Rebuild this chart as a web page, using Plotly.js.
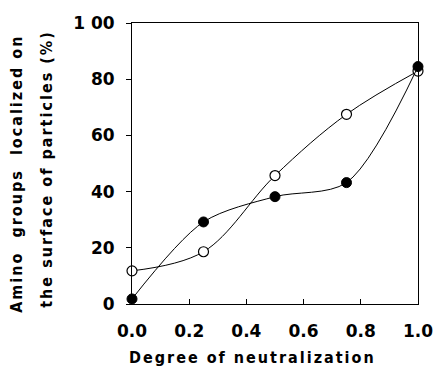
<!DOCTYPE html>
<html>
<head>
<meta charset="utf-8">
<script src="https://cdn.plot.ly/plotly-3.0.1.min.js"></script>
<style>
  html, body { margin: 0; padding: 0; background: #fff; }
  #chart { width: 434px; height: 373px; }
  .annotation-text { letter-spacing: 2px; }
</style>
</head>
<body>
<div id="chart"></div>
<script>
const neutralization = [0, 0.25, 0.5, 0.75, 1.0];
const filledSeries = [1.8, 29.2, 38.2, 43.2, 84.5];
const openSeries = [11.8, 18.6, 45.7, 67.5, 82.9];
const xTickVals = [0, 0.2, 0.4, 0.6, 0.8, 1.0];
const xTickText = ['0.0', '0.2', '0.4', '0.6', '0.8', '1.0'];
const yTickVals = [0, 20, 40, 60, 80, 100];
const yTickText = ['0', '20', '40', '60', '80', '1 00'];
const xTitle = 'Degree of neutralization';
const yTitleLine1 = 'Amino  groups  localized on';
const yTitleLine2 = 'the surface of particles (%)';

const fontFamily = '"DejaVu Sans", sans-serif';
const titleFamily = '"DejaVu Sans Condensed", "DejaVu Sans", sans-serif';
const titleFont = { family: titleFamily, size: 16, weight: 'bold', color: '#000' };
const nb = s => s.replace(/ /g, '\u00A0');

const traces = [
  {
    x: neutralization, y: openSeries, type: 'scatter', mode: 'lines+markers',
    line: { color: '#000', width: 1, shape: 'spline', smoothing: 1.0 },
    marker: { symbol: 'circle', size: 10, color: '#fff', line: { color: '#000', width: 1.2 } },
    cliponaxis: false, showlegend: false
  },
  {
    x: neutralization, y: filledSeries, type: 'scatter', mode: 'lines+markers',
    line: { color: '#000', width: 1, shape: 'spline', smoothing: 0.85 },
    marker: { symbol: 'circle', size: 10, color: '#000', line: { color: '#000', width: 1 } },
    cliponaxis: false, showlegend: false
  }
];

const layout = {
  width: 434, height: 373,
  margin: { l: 132, r: 16, t: 23, b: 69 },
  paper_bgcolor: '#fff', plot_bgcolor: '#fff',
  font: { family: fontFamily, color: '#000' },
  xaxis: {
    range: [0, 1], tickvals: xTickVals, ticktext: xTickText,
    ticks: 'inside', ticklen: 5, tickwidth: 1, tickcolor: '#000',
    showline: true, linecolor: '#000', linewidth: 1, mirror: true,
    showgrid: false, zeroline: false,
    tickfont: { family: fontFamily, size: 17, weight: 'bold', color: '#000' },
    ticklabelstandoff: 12
  },
  yaxis: {
    range: [0, 100], tickvals: yTickVals, ticktext: yTickText,
    ticks: 'outside', ticklen: 5, tickwidth: 1, tickcolor: '#000',
    showline: true, linecolor: '#000', linewidth: 1, mirror: true,
    showgrid: false, zeroline: false,
    tickfont: { family: fontFamily, size: 17, weight: 'bold', color: '#000' },
    ticklabelstandoff: 8
  },
  annotations: [
    { text: nb(xTitle), xref: 'paper', yref: 'paper', x: 0.42, y: -0.192,
      xanchor: 'center', yanchor: 'middle', showarrow: false, font: titleFont },
    { text: nb(yTitleLine1), xref: 'paper', yref: 'paper', x: -0.405, y: 0.464,
      xanchor: 'center', yanchor: 'middle', textangle: -90, showarrow: false, font: titleFont },
    { text: nb(yTitleLine2), xref: 'paper', yref: 'paper', x: -0.30, y: 0.482,
      xanchor: 'center', yanchor: 'middle', textangle: -90, showarrow: false, font: titleFont }
  ]
};

Plotly.newPlot('chart', traces, layout, { staticPlot: true, displayModeBar: false });
</script>
</body>
</html>
